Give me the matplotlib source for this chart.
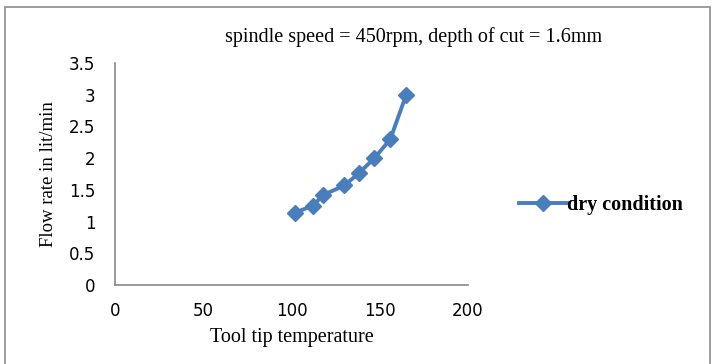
import matplotlib
matplotlib.use("Agg")
import matplotlib.pyplot as plt
from matplotlib.patches import Rectangle

temperature = [102, 112, 118, 130, 138, 147, 156, 165]
flow_rate = [1.14, 1.25, 1.42, 1.57, 1.76, 2.0, 2.3, 3.0]
xticks = [0, 50, 100, 150, 200]
yticks = [0, 0.5, 1, 1.5, 2, 2.5, 3, 3.5]
ytick_labels = ["0", "0.5", "1", "1.5", "2", "2.5", "3", "3.5"]

fig = plt.figure(figsize=(7.12, 3.64), dpi=100)
fig.patches.append(Rectangle((5/712, -0.01), 705/712, 1 - 7/364 + 0.01, transform=fig.transFigure,
                             fill=False, edgecolor="#8c8c8c", linewidth=1.2))
ax = fig.add_axes([115/712, 1 - 285/364, (468 - 115)/712, (285 - 63)/364])

color = "#4a7ebb"
ax.plot(temperature, flow_rate, color=color, linewidth=2.8, marker="D", markersize=8,
        label="dry condition")
ax.set_xlim(0, 200)
ax.set_ylim(0, 3.5)
ax.set_xticks(xticks)
ax.set_yticks(yticks)
ax.set_yticklabels(ytick_labels)
for s in ["top", "right"]:
    ax.spines[s].set_visible(False)
for s in ["left", "bottom"]:
    ax.spines[s].set_color("#888888")
    ax.spines[s].set_linewidth(1.2)
ax.tick_params(axis="y", length=0, labelsize=12, pad=14, labelcolor="black")
ax.tick_params(axis="x", length=0, labelsize=12, pad=12, labelcolor="black")
for lab in ax.get_xticklabels() + ax.get_yticklabels():
    lab.set_fontfamily("DejaVu Sans")
ax.set_xlabel("Tool tip temperature", fontfamily="Liberation Serif", fontsize=14.5, labelpad=6)
ax.set_ylabel("Flow rate in lit/min", fontfamily="Liberation Serif", fontsize=13.5, labelpad=9)
fig.text(414/712, 1 - 37/364, "spindle speed = 450rpm, depth of cut = 1.6mm",
         fontfamily="Liberation Serif", fontsize=14.5, ha="center", va="center")
leg = fig.legend(loc="center left", bbox_to_anchor=(501/712, 1 - 205/364), frameon=False,
                 prop={"family": "Liberation Serif", "weight": "bold", "size": 14.5},
                 handlelength=2.4, handletextpad=0.0)
fig.savefig("out.png", dpi=100)
